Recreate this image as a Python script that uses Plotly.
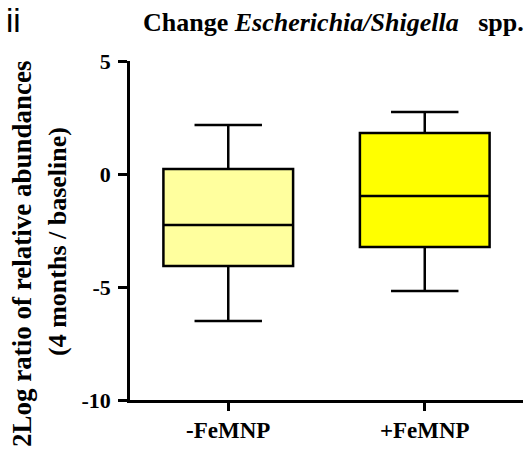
import plotly.graph_objects as go

# ---- data ----
groups = ["-FeMNP", "+FeMNP"]
lower_whisker = [-6.5, -5.18]
q1_values = [-4.07, -3.23]
median_values = [-2.26, -0.97]
q3_values = [0.22, 1.81]
upper_whisker = [2.17, 2.74]
fill_colors = ["#FFFF9E", "#FFFF00"]
y_ticks = [-10, -5, 0, 5]
y_tick_text = ["-10", "-5", "0", "5"]

W, H = 528, 455
L, R, T, B = 130, 5, 61, 55
PW, PH = W - L - R, H - T - B

def px(x):
    return (x - L) / PW

def py(y):
    return (H - B - y) / PH

fig = go.Figure()
for i, g in enumerate(groups):
    fig.add_trace(go.Box(
        x=[g],
        q1=[q1_values[i]], median=[median_values[i]], q3=[q3_values[i]],
        lowerfence=[lower_whisker[i]], upperfence=[upper_whisker[i]],
        fillcolor=fill_colors[i],
        line=dict(color="black", width=2.5),
        width=0.66, whiskerwidth=0.52,
        boxpoints=False, showlegend=False, hoverinfo="skip",
    ))

serif = "Liberation Serif"
fig.update_layout(
    width=W, height=H,
    margin=dict(l=L, r=R, t=T, b=B, pad=0),
    paper_bgcolor="white", plot_bgcolor="white",
    boxmode="overlay",
    showlegend=False,
    xaxis=dict(
        type="category", range=[-0.5, 1.5], automargin=False,
        showline=True, linecolor="black", linewidth=2.5,
        ticks="outside", ticklen=8, tickwidth=2.5, tickcolor="black",
        showgrid=False, zeroline=False,
        tickfont=dict(family=serif, size=23, color="black", weight="bold"),
    ),
    yaxis=dict(
        range=[-10, 5], tickvals=y_ticks, ticktext=y_tick_text, automargin=False,
        showline=True, linecolor="black", linewidth=2.5,
        ticks="outside", ticklen=9, tickwidth=2.5, tickcolor="black",
        showgrid=False, zeroline=False,
        ticklabelstandoff=3,
        tickfont=dict(family=serif, size=22, color="black", weight="bold"),
    ),
    annotations=[
        dict(text="<b>Change <i>Escherichia/Shigella</i>\u00a0\u00a0 spp.</b>",
             xref="paper", yref="paper", x=px(526), y=py(22),
             xanchor="right", yanchor="middle", showarrow=False,
             font=dict(family=serif, size=26, color="black")),
        dict(text="ii", xref="paper", yref="paper", x=px(13), y=py(21),
             xanchor="center", yanchor="middle", showarrow=False,
             font=dict(family="Liberation Sans", size=33, color="black")),
        dict(text="<b>2Log ratio of relative abundances</b>",
             xref="paper", yref="paper", x=px(22), y=py(254),
             xanchor="center", yanchor="middle", textangle=-90, showarrow=False,
             font=dict(family=serif, size=27, color="black")),
        dict(text="<b>(4 months / baseline)</b>",
             xref="paper", yref="paper", x=px(57), y=py(242),
             xanchor="center", yanchor="middle", textangle=-90, showarrow=False,
             font=dict(family=serif, size=26, color="black")),
    ],
)

fig.write_html("out.html", config={"displayModeBar": False},
               post_script="document.body.style.margin='0';")
